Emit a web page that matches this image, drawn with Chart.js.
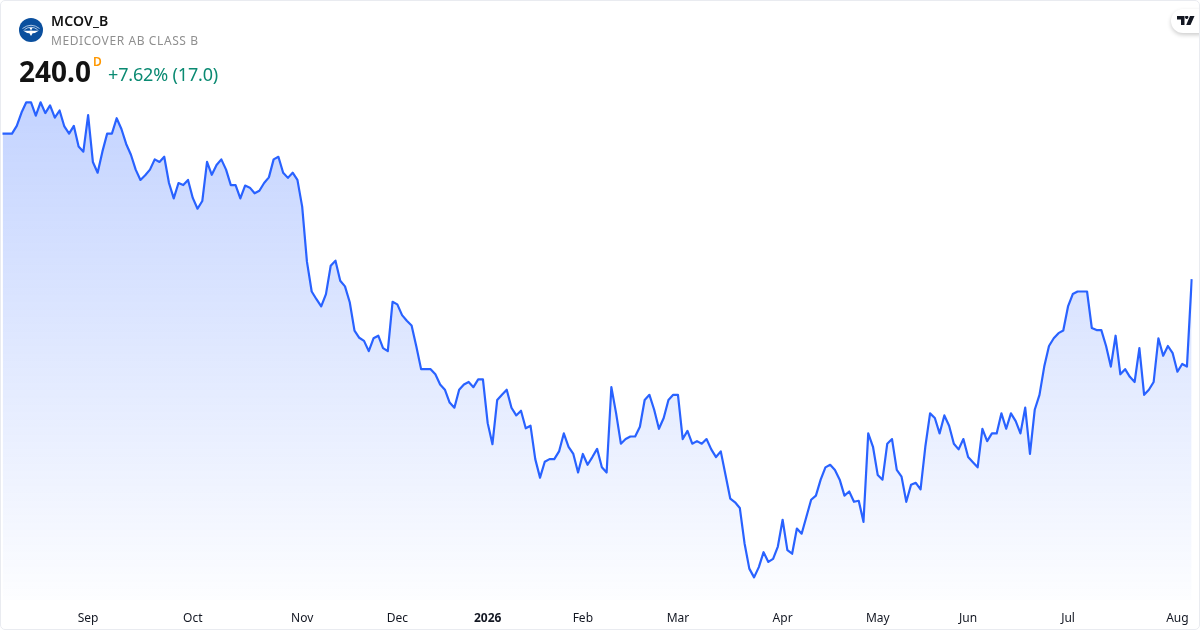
<!DOCTYPE html>
<html><head><meta charset="utf-8">
<script src="https://cdn.jsdelivr.net/npm/chart.js@4"></script>
<style>
html,body{margin:0;padding:0;background:#fff;width:1200px;height:630px;overflow:hidden}
body{font-family:"Noto Sans",sans-serif;color:#131313}
#wrap{position:relative;width:1200px;height:630px}
#chart{position:absolute;left:0;top:0;width:1200px;height:630px}
#card{position:absolute;left:0;top:0;width:1198px;height:628px;border:1px solid #e9ebf0;border-radius:5px;pointer-events:none}
.t{position:absolute;white-space:nowrap}
#sym{left:51px;top:11px;font-size:14px;font-weight:600;line-height:20px;letter-spacing:.15px}
#name{left:51px;top:32px;font-size:12px;line-height:18px;color:#8f8f8f;letter-spacing:.6px}
#price{left:19px;top:52px;font-size:28px;font-weight:700;line-height:38px}
#res{left:93px;top:54px;font-size:12px;font-weight:600;line-height:16px;color:#ff9800}
#chg{left:108px;top:62px;font-size:18px;line-height:25px;color:#0b8a72;letter-spacing:-.16px}
#logo{position:absolute;left:19px;top:18px}
#tv{position:absolute;top:9px;width:40px;height:24px;border-radius:12px;background:#fff;box-shadow:0 2px 4px rgba(0,0,0,.2)}
#tvclip{position:absolute;left:1160px;top:0;width:39px;height:50px;overflow:hidden}
</style></head><body>
<div id="wrap">
<canvas id="chart" width="1200" height="630"></canvas>
<div id="card"></div>
<svg id="logo" width="24" height="24" viewBox="0 0 24 24">
<circle cx="12" cy="12" r="12" fill="#0a4f9e"/>
<path d="M3.5 10.5 Q12 4 20.5 10.5" stroke="#d5e3f5" stroke-width=".8" fill="none"/>
<path d="M5.5 11.5 Q12 7 18.5 11.5" stroke="#d5e3f5" stroke-width=".8" fill="none"/>
<circle cx="12" cy="10.6" r="1.2" fill="#fff"/>
<path d="M4 12.5 Q8.5 13.2 12 12.4 Q15.5 13.2 20 12.5 Q16.5 15.2 13.6 15.3 L12 18 L10.4 15.3 Q7.5 15.2 4 12.5Z" fill="#fff"/>
</svg>
<div class="t" id="sym">MCOV_B</div>
<div class="t" id="name">MEDICOVER AB CLASS B</div>
<div class="t" id="price">240.0</div>
<div class="t" id="res">D</div>
<div class="t" id="chg">+7.62% (17.0)</div>
<div id="tvclip"><div id="tv" style="left:11px"></div>
<svg style="position:absolute;left:17px;top:16px" width="18" height="10" viewBox="0 0 18 10"><path d="M0 0H7.5V9H4V3.5H0Z M8 1.2a1.7 1.7 0 1 1 0 .01Z M13 0H17.5L13.5 9H9.2Z" fill="#131722"/></svg>
</div>
</div>
<script>
const prices=[268.3,268.3,268.3,269.8,272.4,274.4,274.4,271.8,274.4,272.3,
273.8,271.4,272.8,269.7,268.3,269.8,265.8,264.8,271.9,262.8,
260.7,264.8,268.3,268.3,271.3,269.2,266.3,264.2,261.3,259.3,
260.2,261.3,263.3,262.8,263.8,258.7,255.7,258.7,258.3,259.3,
255.8,253.7,255.2,262.8,260.3,262.2,263.3,261.3,258.3,258.3,
255.7,258.2,257.8,256.7,257.2,258.7,259.8,263.3,263.8,260.7,
259.7,260.7,259.3,254.1,243.4,237.6,236.1,234.7,237.1,242.6,
243.6,239.7,238.6,235.5,230.0,228.6,228.0,226.0,228.5,229.0,
226.6,226.0,235.6,235.1,233.0,231.9,231.0,226.9,222.5,222.5,
222.5,221.5,219.5,218.5,216.0,215.0,218.5,219.5,220.0,219.0,
220.5,220.5,212.0,207.9,216.5,217.5,218.5,215.0,213.5,214.4,
211.0,211.5,205.0,201.4,204.5,205.0,205.0,206.5,210.0,207.4,
206.0,202.4,206.0,203.9,205.4,207.0,203.4,202.4,219.0,213.9,
208.0,208.9,209.4,209.4,211.3,216.5,217.5,214.6,210.9,213.0,
216.5,217.5,217.5,208.9,210.5,208.0,208.5,208.0,208.9,206.9,
205.4,206.5,201.9,197.3,196.6,195.5,188.6,183.7,182.0,184.0,
186.9,185.0,185.6,188.0,193.2,187.3,186.6,191.5,190.5,193.8,
197.1,197.9,201.0,203.4,203.9,202.9,201.0,197.9,198.7,196.7,
196.9,192.8,210.0,207.4,201.9,201.0,208.0,208.9,202.9,201.6,
196.7,200.0,200.4,199.1,207.4,213.9,213.0,210.0,213.5,211.5,
208.0,206.9,208.9,205.4,204.4,203.4,210.9,208.5,210.0,210.0,
213.9,210.9,213.9,212.4,210.0,215.0,206.0,214.6,217.5,223.0,
227.0,228.5,229.5,230.0,234.7,237.1,237.6,237.6,237.6,230.5,
230.1,230.1,227.0,223.0,229.0,221.5,222.5,221.0,220.0,226.6,
217.5,218.5,220.0,228.5,225.1,227.0,225.6,222.0,223.5,223.0,
240.0];
const tickNames=["Sep","Oct","Nov","Dec","2026","Feb","Mar","Apr","May","Jun","Jul","Aug"];
const tickIndexes=[18,40,63,83,102,122,142,164,184,203,224,247];
const labels=prices.map((_,i)=>{const k=tickIndexes.indexOf(i);return k<0?"":tickNames[k];});
const lineColor="#2962ff";
new Chart(document.getElementById("chart"),{
type:"line",
data:{labels,datasets:[{data:prices,borderColor:lineColor,borderWidth:2.2,pointRadius:0,tension:0,borderJoinStyle:"round",
 fill:"start",
 backgroundColor(ctx){const a=ctx.chart.chartArea;if(!a)return "rgba(41,98,255,.28)";
  const g=ctx.chart.ctx.createLinearGradient(0,100,0,a.bottom);
  g.addColorStop(0,"rgba(41,98,255,.28)");g.addColorStop(1,"rgba(41,98,255,0.01)");return g;}}]},
options:{responsive:false,animation:false,devicePixelRatio:1,
 layout:{padding:{left:2.5,right:8.3,top:1,bottom:0}},
 plugins:{legend:{display:false},tooltip:{enabled:false}},
 scales:{
  y:{display:false,min:177.6,max:294.1},
  x:{offset:false,grid:{display:false},border:{display:false},
   afterFit(s){s.height=30;},
   ticks:{autoSkip:false,maxRotation:0,minRotation:0,padding:3,color:"#131722",
    font(c){return {family:"'Noto Sans'",size:12,weight:c.tick&&c.tick.label==="2026"?"700":"400"};},
    callback(v){const l=this.getLabelForValue(v);return l===""?null:l;}}}
 }}});
</script>
</body></html>
